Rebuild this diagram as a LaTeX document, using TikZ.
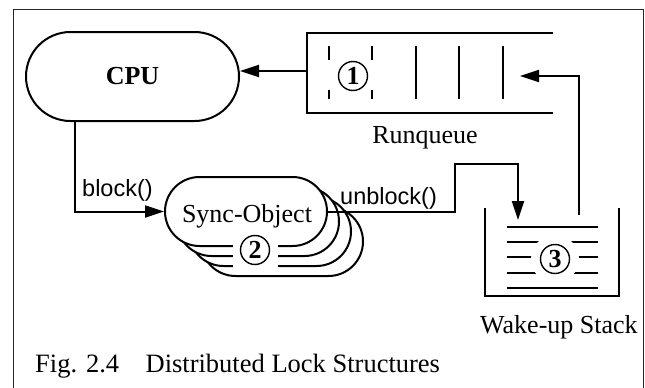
\documentclass[tikz,border=0pt]{standalone}
\usepackage{fontspec}
\setmainfont{Liberation Serif}
\setsansfont{Liberation Sans}
\usetikzlibrary{arrows.meta,shapes.misc}
\begin{document}
\begin{tikzpicture}[x=1pt,y=-1pt,
  every node/.style={inner sep=0pt},
  wire/.style={line width=2pt},
  arrow/.style={wire,-{Triangle[length=19pt,width=12pt]}},
  stadium/.style={rounded rectangle,draw,line width=2pt,fill=white,
    minimum width=162pt,minimum height=69pt},
  circnum/.style={circle,draw,line width=1.4pt,minimum size=29pt,
    font=\fontsize{26}{26}\selectfont\bfseries},
  serif/.style={font=\fontsize{26}{30}\selectfont},
  sans/.style={font=\sffamily\fontsize{23.5}{28}\selectfont},
  mask/.style={fill=white}]
\useasboundingbox (0,0) rectangle (645,388);

% outer frame (open at the bottom)
\draw[line width=1pt,black!85] (13,388) -- (13,9) -- (643,9) -- (643,388);

% CPU
\node[rounded rectangle,draw,line width=2pt,minimum width=213pt,
  minimum height=89pt,font=\fontsize{26}{30}\selectfont\bfseries]
  (cpu) at (132.5,76.5) {CPU};

% run queue: open-ended box with slots
\node[minimum width=246pt,minimum height=80pt] (rq) at (430,73) {};
\draw[wire] (rq.north east) -- (rq.north west) -- (rq.south west) -- (rq.south east);
\foreach \x in {329,372,416,459,503} \draw[wire] (\x,46) -- (\x,99);
\fill[mask] (321,60) rectangle (381,90);
\node[circnum] (c1) at (353,76) {1};
\node[serif,anchor=base] (rqlabel) at (425,143) {Runqueue};
\coordinate (rqin) at (520,76);

% wake-up stack
\node[minimum width=134pt,minimum height=88pt] (ws) at (552,252) {};
\draw[wire] (ws.north west) -- (ws.south west) -- (ws.south east) -- (ws.north east);
\foreach \y in {227,242,257,273,288} \draw[wire] (507,\y) -- (598,\y);
\fill[mask] (555,259) circle (24pt);
\node[circnum] (c3) at (555,259) {3};
\coordinate (wsin) at (518,220);
\coordinate (wsout) at (579,215);
\node[serif,anchor=base west] (wslabel) at (480,333) {Wake-up Stack};

% stack of sync objects, back to front
\node[stadium] (s4) at (282,241.5) {};
\node[stadium] (s3) at (270,231.5) {};
\node[stadium] (s2) at (258,221.5) {};
\node[stadium] (s1) at (246,211.5) {};
\node[serif,anchor=base] (synctext) at (247,222) {Sync-Object};
\fill[mask] (232.5,236) rectangle (277.5,272);
\node[circnum] (c2) at (255,250) {2};

% connectors
\draw[arrow] (rq.west |- 0,71) -- (cpu.east |- 0,71);
\draw[arrow] (cpu.south -| 75,0) |- (s1.west);
\node[sans,anchor=base west] (blk) at (82,196) {block()};
\draw[arrow] (s1.east) -| (455,164) -| (wsin);
\node[sans,anchor=base west] (ublk) at (340,204) {unblock()};
\draw[arrow] (wsout) |- (rqin);

% caption
\node[font=\fontsize{26.5}{30}\selectfont,anchor=base west] (cap) at (35,372)
  {Fig. 2.4\quad Distributed Lock Structures};
\end{tikzpicture}
\end{document}
